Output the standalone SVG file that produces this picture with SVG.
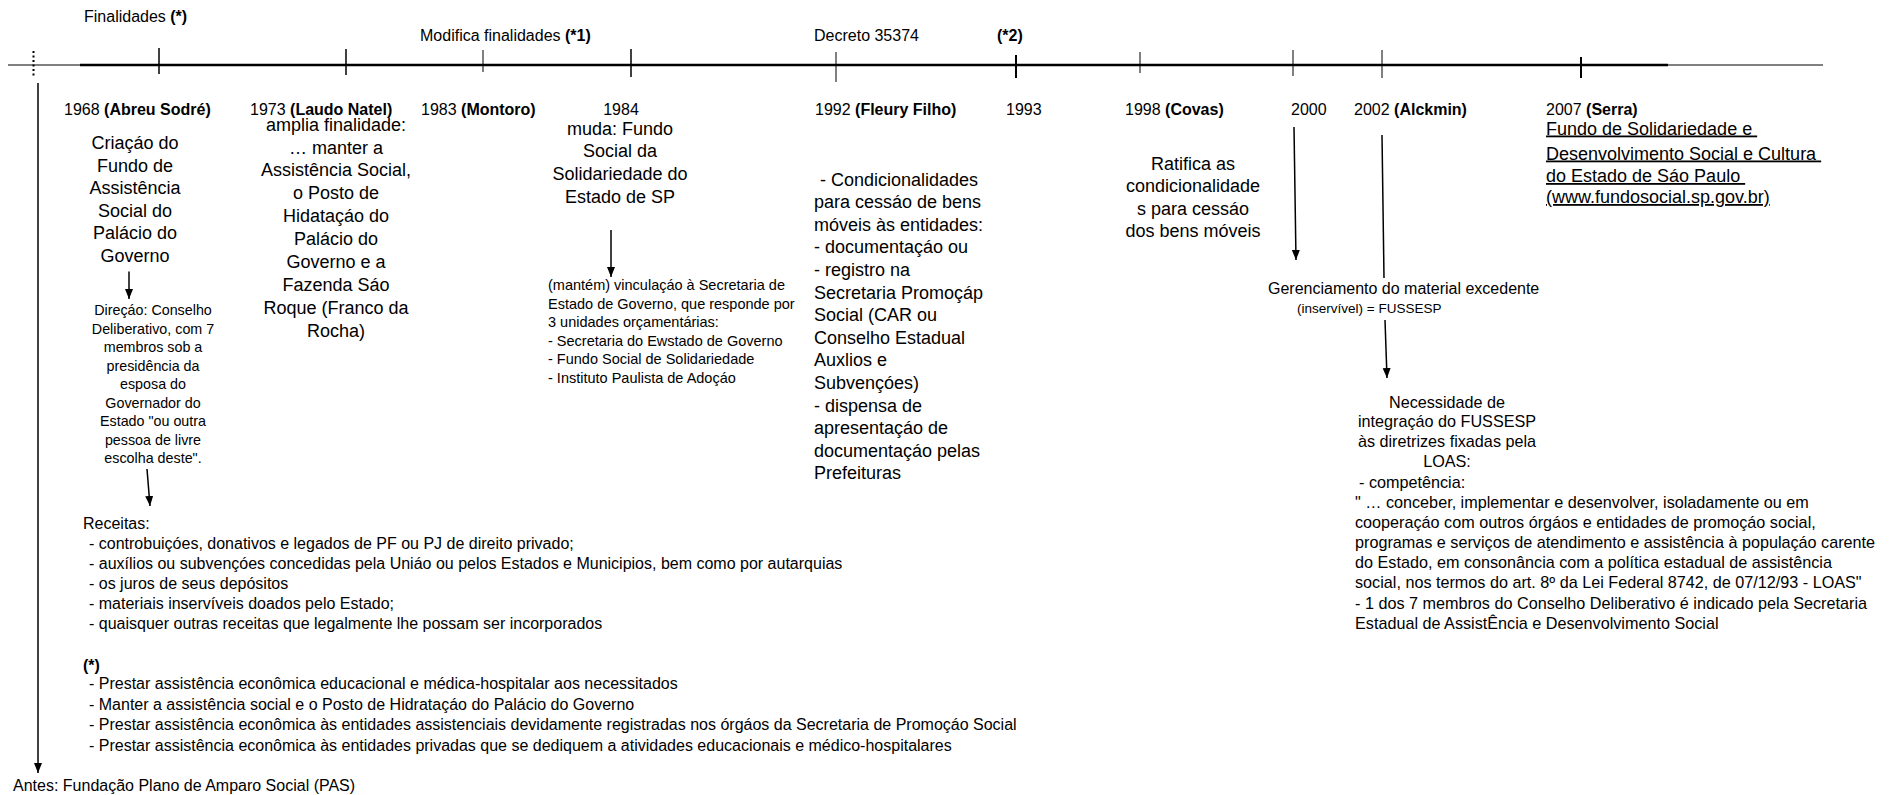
<svg xmlns="http://www.w3.org/2000/svg" width="1892" height="795" viewBox="0 0 1892 795">
<style>
text{font-family:"Liberation Sans",Arial,sans-serif;fill:#000}
.lb{font-size:16px}
.bg{font-size:18px}
.md{font-size:16.2px}
.sm{font-size:14.3px}
.mt{font-size:14.5px}
.tn{font-size:13.5px}
.c{text-anchor:middle}
.b{font-weight:bold}
.ln{stroke:#000;fill:none}
.u{text-decoration:underline;white-space:pre}
</style>
<defs>
<marker id="ah" markerUnits="userSpaceOnUse" markerWidth="10" markerHeight="10" refX="10" refY="4" orient="auto">
<path d="M0,0 L10,4 L0,8 Z" fill="#000"/>
</marker>
</defs>
<rect width="1892" height="795" fill="#fff"/>

<g id="timeline">
<line class="ln" x1="8" y1="65" x2="80" y2="65" stroke-width="1"/>
<line class="ln" x1="80" y1="65" x2="1668" y2="65" stroke-width="2.5"/>
<line class="ln" x1="1668" y1="65" x2="1823" y2="65" stroke-width="1"/>
<line class="ln" x1="33.5" y1="51" x2="33.5" y2="78" stroke-width="2" stroke-dasharray="2,2.5"/>
<line class="ln" x1="159" y1="48" x2="159" y2="74" stroke-width="1.5"/>
<line class="ln" x1="346" y1="49" x2="346" y2="75" stroke-width="1.5"/>
<line class="ln" x1="483" y1="50" x2="483" y2="72" stroke-width="1"/>
<line class="ln" x1="631" y1="49" x2="631" y2="77" stroke-width="1.5"/>
<line class="ln" x1="836" y1="52" x2="836" y2="82" stroke-width="1"/>
<line class="ln" x1="1016" y1="55" x2="1016" y2="78" stroke-width="2"/>
<line class="ln" x1="1140" y1="52" x2="1140" y2="73" stroke-width="1"/>
<line class="ln" x1="1293" y1="50" x2="1293" y2="76" stroke-width="1"/>
<line class="ln" x1="1382" y1="50" x2="1382" y2="78" stroke-width="1"/>
<line class="ln" x1="1581" y1="57" x2="1581" y2="78" stroke-width="2"/>
</g>

<g id="top-labels" class="lb">
<text x="84" y="22">Finalidades <tspan class="b">(*)</tspan></text>
<text x="420" y="41">Modifica finalidades <tspan class="b">(*1)</tspan></text>
<text x="814" y="41">Decreto 35374</text>
<text x="997" y="41" class="b">(*2)</text>
</g>

<g id="n1968">
<text class="lb" x="64" y="115">1968 <tspan class="b">(Abreu Sodré)</tspan></text>
<g class="bg c">
<text x="135" y="149">Criaçáo do</text>
<text x="135" y="171.5">Fundo de</text>
<text x="135" y="194">Assistência</text>
<text x="135" y="216.5">Social do</text>
<text x="135" y="239">Palácio do</text>
<text x="135" y="261.5">Governo</text>
</g>
</g>

<g id="n1968-direcao" class="sm c">
<text x="153" y="315">Direçáo: Conselho</text>
<text x="153" y="333.5">Deliberativo, com 7</text>
<text x="153" y="352">membros sob a</text>
<text x="153" y="370.5">presidência da</text>
<text x="153" y="389">esposa do</text>
<text x="153" y="407.5">Governador do</text>
<text x="153" y="426">Estado "ou outra</text>
<text x="153" y="444.5">pessoa de livre</text>
<text x="153" y="463">escolha deste".</text>
</g>

<g id="n-receitas" class="lb">
<text x="83" y="528.5">Receitas:</text>
<text x="89" y="548.5">- controbuiçóes, donativos e legados de PF ou PJ de direito privado;</text>
<text x="89" y="568.5">- auxílios ou subvençóes concedidas pela Uniáo ou pelos Estados e Municipios, bem como por autarquias</text>
<text x="89" y="588.5">- os juros de seus depósitos</text>
<text x="89" y="609">- materiais inservíveis doados pelo Estado;</text>
<text x="89" y="629">- quaisquer outras receitas que legalmente lhe possam ser incorporados</text>
</g>

<g id="n-finalidades" class="lb">
<text x="83" y="671" class="b">(*)</text>
<text x="89" y="689">- Prestar assistência econômica educacional e médica-hospitalar aos necessitados</text>
<text x="89" y="710">- Manter a assistência social e o Posto de Hidrataçáo do Palácio do Governo</text>
<text x="89" y="730">- Prestar assistência econômica às entidades assistenciais devidamente registradas nos órgáos da Secretaria de Promoçáo Social</text>
<text x="89" y="751">- Prestar assistência econômica às entidades privadas que se dediquem a atividades educacionais e médico-hospitalares</text>
</g>

<g id="n-antes">
<text class="lb" x="13" y="791">Antes: Fundação Plano de Amparo Social (PAS)</text>
</g>

<g id="n1973">
<text class="lb" x="250" y="115">1973 <tspan class="b">(Laudo Natel)</tspan></text>
<g class="bg c">
<text x="336" y="131">amplia finalidade:</text>
<text x="336" y="153.5">… manter a</text>
<text x="336" y="176.4">Assistência Social,</text>
<text x="336" y="199.3">o Posto de</text>
<text x="336" y="222.2">Hidataçáo do</text>
<text x="336" y="245.1">Palácio do</text>
<text x="336" y="268">Governo e a</text>
<text x="336" y="290.9">Fazenda Sáo</text>
<text x="336" y="313.8">Roque (Franco da</text>
<text x="336" y="336.7">Rocha)</text>
</g>
</g>

<g id="n1983">
<text class="lb" x="421" y="115">1983 <tspan class="b">(Montoro)</tspan></text>
</g>

<g id="n1984">
<text class="lb c" x="621" y="115">1984</text>
<g class="bg c">
<text x="620" y="134.5">muda: Fundo</text>
<text x="620" y="157.3">Social da</text>
<text x="620" y="180.1">Solidariedade do</text>
<text x="620" y="202.9">Estado de SP</text>
</g>
</g>

<g id="n1984-vinculacao" class="mt">
<text x="548" y="290">(mantém) vinculaçáo à Secretaria de</text>
<text x="548" y="308.5">Estado de Governo, que responde por</text>
<text x="548" y="327">3 unidades orçamentárias:</text>
<text x="548" y="345.5">- Secretaria do Ewstado de Governo</text>
<text x="548" y="364">- Fundo Social de Solidariedade</text>
<text x="548" y="382.5">- Instituto Paulista de Adoçáo</text>
</g>

<g id="n1992">
<text class="lb" x="815" y="115">1992 <tspan class="b">(Fleury Filho)</tspan></text>
<g class="bg">
<text x="820" y="185.5">- Condicionalidades</text>
<text x="814" y="208.1">para cessáo de bens</text>
<text x="814" y="230.7">móveis às entidades:</text>
<text x="814" y="253.3">- documentaçáo ou</text>
<text x="814" y="275.9">- registro na</text>
<text x="814" y="298.5">Secretaria Promoçáp</text>
<text x="814" y="321.1">Social (CAR ou</text>
<text x="814" y="343.7">Conselho Estadual</text>
<text x="814" y="366.3">Auxlios e</text>
<text x="814" y="388.9">Subvençóes)</text>
<text x="814" y="411.5">- dispensa de</text>
<text x="814" y="434.1">apresentaçáo de</text>
<text x="814" y="456.7">documentaçáo pelas</text>
<text x="814" y="479.3">Prefeituras</text>
</g>
</g>

<g id="n1993">
<text class="lb" x="1006" y="115">1993</text>
</g>

<g id="n1998">
<text class="lb" x="1125" y="115">1998 <tspan class="b">(Covas)</tspan></text>
<g class="bg c">
<text x="1193" y="169.5">Ratifica as</text>
<text x="1193" y="192">condicionalidade</text>
<text x="1193" y="214.5">s para cessáo</text>
<text x="1193" y="237">dos bens móveis</text>
</g>
</g>

<g id="n2000">
<text class="lb" x="1291" y="115">2000</text>
</g>

<g id="n2002">
<text class="lb" x="1354" y="115">2002 <tspan class="b">(Alckmin)</tspan></text>
</g>

<g id="n-gerenciamento">
<text class="lb" x="1268" y="294">Gerenciamento do material excedente</text>
<text class="tn" x="1297" y="313">(inservível) = FUSSESP</text>
</g>

<g id="n-loas" class="md">
<text class="c" x="1447" y="407.5">Necessidade de</text>
<text class="c" x="1447" y="427.2">integraçáo do FUSSESP</text>
<text class="c" x="1447" y="446.9">às diretrizes fixadas pela</text>
<text class="c" x="1447" y="466.6">LOAS:</text>
<text x="1359" y="487.5">- competência:</text>
<text x="1355" y="507.5">" … conceber, implementar e desenvolver, isoladamente ou em</text>
<text x="1355" y="527.7">cooperaçáo com outros órgáos e entidades de promoçáo social,</text>
<text x="1355" y="547.9">programas e serviços de atendimento e assistência à populaçáo carente</text>
<text x="1355" y="568.1">do Estado, em consonância com a política estadual de assistência</text>
<text x="1355" y="588.3">social, nos termos do art. 8º da Lei Federal 8742, de 07/12/93 - LOAS"</text>
<text x="1355" y="608.5">- 1 dos 7 membros do Conselho Deliberativo é indicado pela Secretaria</text>
<text x="1355" y="628.7">Estadual de AssistÊncia e Desenvolvimento Social</text>
</g>

<g id="n2007">
<text class="lb" x="1546" y="115">2007 <tspan class="b">(Serra)</tspan></text>
<g class="bg">
<text class="u" x="1546" y="134.5">Fundo de Solidariedade e </text>
<text class="u" x="1546" y="159.5">Desenvolvimento Social e Cultura </text>
<text class="u" x="1546" y="182">do Estado de Sáo Paulo </text>
<text class="u" x="1546" y="203">(www.fundosocial.sp.gov.br)</text>
</g>
</g>

<g id="connectors" class="ln" stroke-width="1.5">
<line x1="38" y1="83" x2="38" y2="773" marker-end="url(#ah)"/>
<line x1="129" y1="271.5" x2="129" y2="299" marker-end="url(#ah)"/>
<line x1="147" y1="469" x2="150" y2="506" marker-end="url(#ah)"/>
<line x1="611" y1="230" x2="611" y2="277" marker-end="url(#ah)"/>
<line x1="1294" y1="127" x2="1296" y2="260" marker-end="url(#ah)"/>
<line x1="1382" y1="135" x2="1384" y2="278"/>
<line x1="1385" y1="320" x2="1387" y2="378" marker-end="url(#ah)"/>
</g>
</svg>
